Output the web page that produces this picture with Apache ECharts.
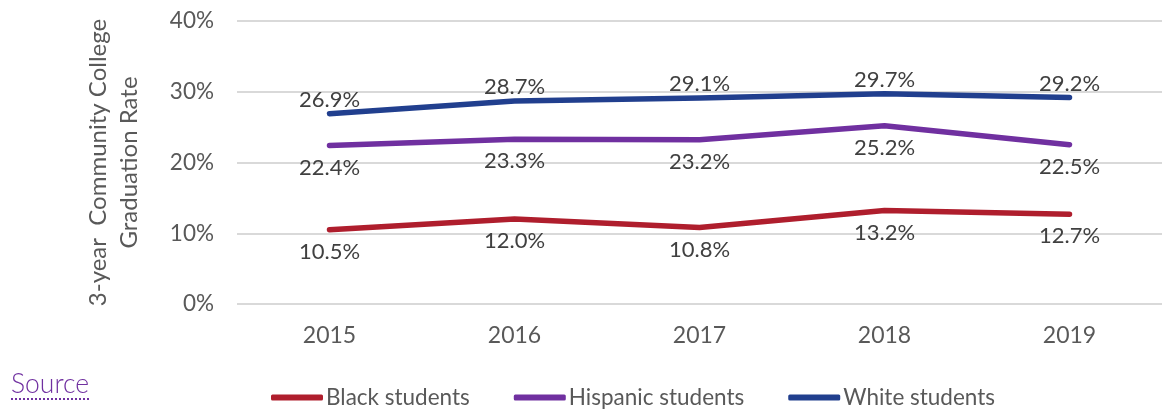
<!DOCTYPE html>
<html>
<head>
<meta charset="utf-8">
<script src="https://cdn.jsdelivr.net/npm/echarts@6/dist/echarts.min.js"></script>
<style>
  html, body { margin: 0; padding: 0; background: #fff; }
  #chart { width: 1162px; height: 410px; }
  #source {
    position: absolute; left: 11px; top: 368px;
    font-family: Lato, sans-serif; font-weight: 300; font-size: 26.5px;
    color: #7030A0; border-bottom: 2px dotted #7030A0; line-height: 30px;
  }
</style>
</head>
<body>
<div id="chart"></div>
<div id="source">Source</div>
<script>
// Three-year community college graduation rates by student group
const years = ['2015', '2016', '2017', '2018', '2019'];
const blackStudents = [10.5, 12.0, 10.8, 13.2, 12.7];
const hispanicStudents = [22.4, 23.3, 23.2, 25.2, 22.5];
const whiteStudents = [26.9, 28.7, 29.1, 29.7, 29.2];

const chart = echarts.init(document.getElementById('chart'));
const font = 'Lato, sans-serif';

function lineSeries(name, data, color, labelPos, dist) {
  return {
    name: name,
    type: 'line',
    data: data,
    symbol: 'circle',
    symbolSize: 0,
    showSymbol: true,
    lineStyle: { color: color, width: 5.5, cap: 'round', join: 'round' },
    itemStyle: { color: color },
    label: {
      show: true,
      position: labelPos,
      distance: dist,
      fontFamily: font,
      fontSize: 22,
      color: '#404040',
      formatter: p => p.value.toFixed(1) + '%'
    },
    labelLayout: { hideOverlap: false }
  };
}

chart.setOption({
  animation: false,
  grid: { left: 237, right: -10, top: 21, bottom: 106, containLabel: false },
  xAxis: {
    type: 'category',
    data: years,
    boundaryGap: true,
    axisLine: { show: false },
    axisTick: { show: false },
    axisLabel: { fontFamily: font, fontSize: 23, color: '#595959', margin: 20 }
  },
  yAxis: {
    type: 'value',
    min: 0, max: 40, interval: 10,
    axisLabel: { fontFamily: font, fontSize: 22.5, color: '#595959', margin: 23, formatter: '{value}%' },
    splitLine: { lineStyle: { color: '#d9d9d9', width: 2 } },
    name: '3-year  Community College\nGraduation Rate',
    nameLocation: 'middle',
    nameGap: 92,
    nameTextStyle: { fontFamily: font, fontSize: 24, color: '#595959', lineHeight: 31 }
  },
  legend: {
    bottom: -4,
    left: 266,
    itemWidth: 52,
    itemHeight: 6,
    itemGap: 44,
    icon: 'roundRect',
    textStyle: { fontFamily: font, fontSize: 22.5, color: '#595959', padding: [0, 0, 0, -2] },
    data: ['Black students', 'Hispanic students', 'White students']
  },
  series: [
    lineSeries('Black students', blackStudents, '#AF1E2D', 'bottom', 11),
    lineSeries('Hispanic students', hispanicStudents, '#7030A0', 'bottom', 11),
    lineSeries('White students', whiteStudents, '#213F8E', 'top', 3)
  ]
});
</script>
</body>
</html>
